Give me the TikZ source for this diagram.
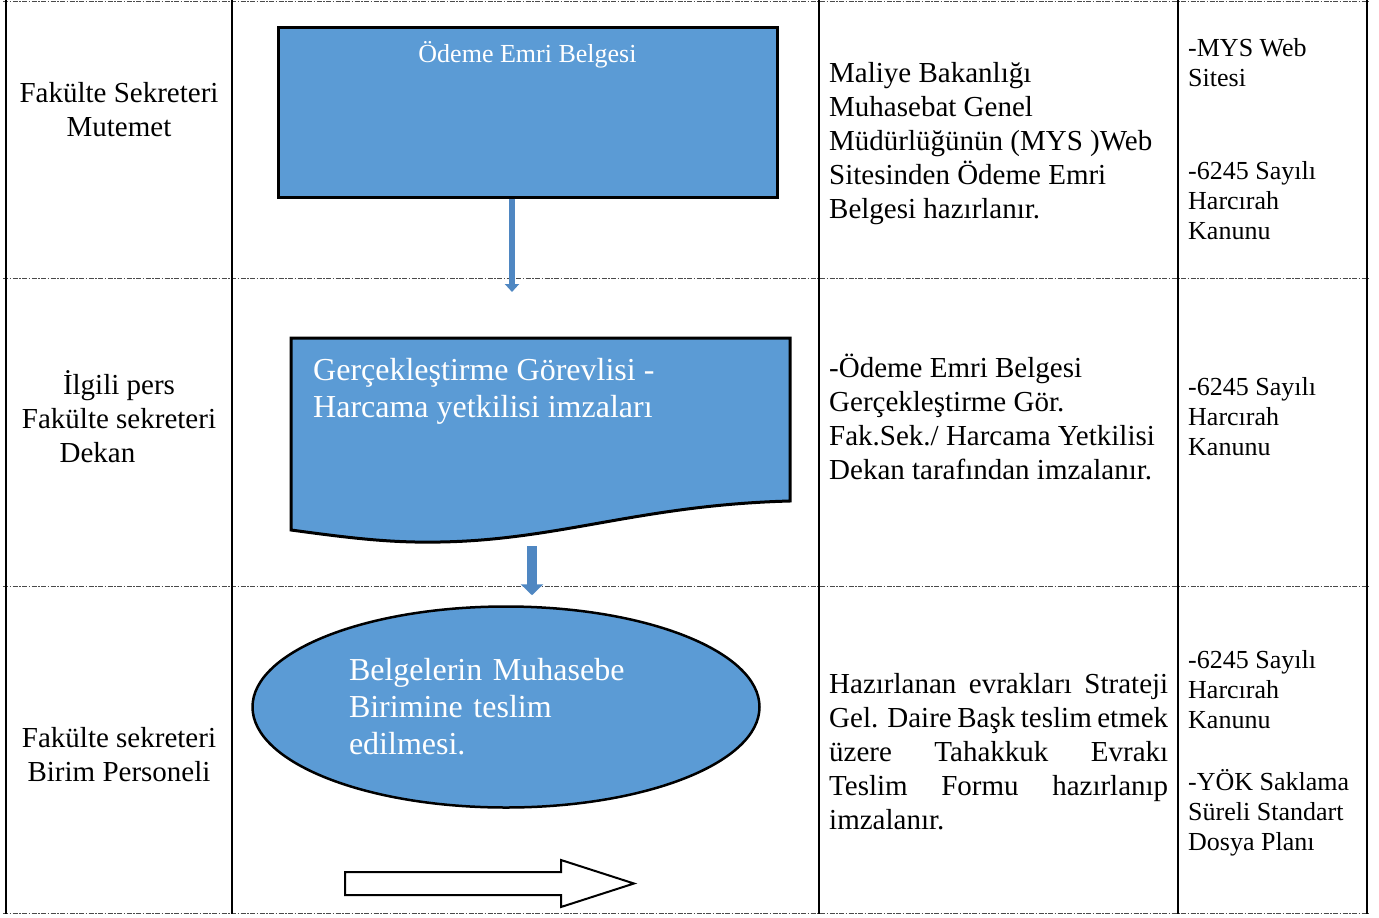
\documentclass[tikz,border=0pt]{standalone}
\usepackage{fontspec}
\setmainfont{Liberation Serif}
\usetikzlibrary{arrows.meta}
\usetikzlibrary{shapes.geometric}
\definecolor{boxblue}{HTML}{5B9BD5}
\definecolor{arrowblue}{HTML}{4F87C2}
\definecolor{gridgray}{HTML}{4A4A4A}

\begin{document}
\begin{tikzpicture}[x=1pt,y=-1pt]
\tikzset{rolecell/.style={inner sep=0pt,align=center,font=\fontsize{29}{34}\selectfont},
descell/.style={inner sep=0pt,align=left,anchor=west,font=\fontsize{29}{34}\selectfont},
refcell/.style={inner sep=0pt,align=left,anchor=west,font=\fontsize{26}{30}\selectfont},
flowbox/.style={draw=black,line width=3pt,fill=boxblue},
flowtext/.style={inner sep=0pt,text=white,font=\fontsize{32}{37}\selectfont},
rowline/.style={gridgray,line width=0.9pt,dash pattern=on 5pt off 1.5pt on 1.5pt off 1.5pt},
colline/.style={black,line width=2pt}}
\useasboundingbox (0,0) rectangle (1379,918);

\foreach \y in {1,278,586,913} \draw[rowline] (3,\y) -- (1369,\y);
\foreach \x in {6,232,819,1178,1367} \draw[colline] (\x,0) -- (\x,914);

\node[rolecell] (rol1) at (119,110) {Fakülte Sekreteri\\Mutemet};
\node[rolecell] (rol2) at (119,417) {İlgili pers\\Fakülte sekreteri\\Dekan\hspace*{43pt}};
\node[rolecell] (rol3) at (119,755) {Fakülte sekreteri\\Birim Personeli};

\node[flowbox,minimum width=499pt,minimum height=170pt] (odeme) at (527.5,112) {};
\node[flowtext,font=\fontsize{26}{30}\selectfont,anchor=north] (odemetxt) at ([yshift=-16pt]odeme.north) {Ödeme Emri Belgesi};

\draw[flowbox] (291,338) -- (790,338) -- (790,501) .. controls (640,505) and (560,540) .. (440,542) .. controls (390,543) and (350,538) .. (291,530) -- cycle;
\node[flowtext,align=left,anchor=north west] (gorev) at (313,358) {Gerçekleştirme Görevlisi -\\Harcama yetkilisi imzaları};

\node[flowbox,ellipse,line width=2.5pt,minimum width=507pt,minimum height=201pt,inner sep=0pt,text width=314pt,align=left,text=white,font=\fontsize{32}{37}\selectfont] (teslim) at (506,707) {Belgelerin Muhasebe\\Birimine teslim\\edilmesi.};

\coordinate (a1) at (512,292);
\coordinate (a2) at (532,546);
\draw[arrowblue,line width=5.5pt,-{Triangle[width=14pt,length=8pt]}] (odeme.south -| a1) -- (a1);
\draw[arrowblue,line width=10pt,-{Triangle[width=22pt,length=11pt]}] (a2) -- ([yshift=10pt]teslim.north -| a2);

\draw[black,line width=2pt,fill=white] (345,872) -- (561,872) -- (561,860) -- (634,883.5) -- (561,907) -- (561,895) -- (345,895) -- cycle;

\node[descell] (des1) at (829,144) {Maliye Bakanlığı\\Muhasebat Genel\\Müdürlüğünün (MYS )Web\\Sitesinden Ödeme Emri\\Belgesi hazırlanır.};
\node[descell] (des2) at (829,417) {-Ödeme Emri Belgesi\\Gerçekleştirme Gör.\\Fak.Sek./ Harcama Yetkilisi\\Dekan tarafından imzalanır.};
\node[descell,text width=339pt,align=justify] (des3) at (829,752) {Hazırlanan evrakları Strateji\linebreak Gel. Daire Başk teslim etmek\linebreak üzere Tahakkuk Evrakı\linebreak Teslim Formu hazırlanıp\linebreak imzalanır.};

\node[refcell] (ref1) at (1188,139) {-MYS Web\\Sitesi\\[63pt]-6245 Sayılı\\Harcırah\\Kanunu};
\node[refcell] (ref2) at (1188,417) {-6245 Sayılı\\Harcırah\\Kanunu};
\node[refcell] (ref3) at (1188,753) {-6245 Sayılı\\Harcırah\\Kanunu\\[32pt]-YÖK Saklama\\Süreli Standart\\Dosya Planı};
\end{tikzpicture}
\end{document}
